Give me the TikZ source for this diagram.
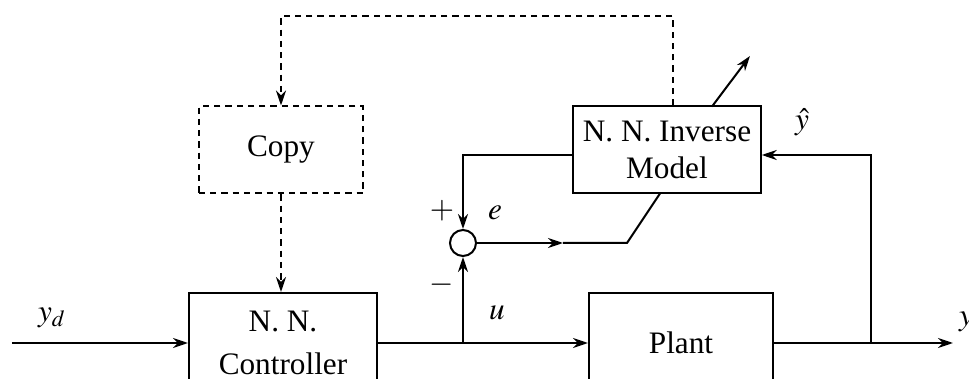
\documentclass[tikz,border=0pt]{standalone}
\usepackage{mathptmx}
\usepackage{fontspec}
\setmainfont{Liberation Serif}
\usetikzlibrary{positioning,arrows.meta,calc}

\begin{document}
\begin{tikzpicture}[
    x=0.4pt, y=-0.4pt,
    font=\fontsize{12.5}{15}\selectfont,
    line width=0.8pt,
    block/.style={rectangle, draw, align=center, inner sep=2pt},
    dashblock/.style={block, dash pattern=on 2.5pt off 2pt},
    dashline/.style={dash pattern=on 2.5pt off 2pt},
    sumnode/.style={circle, draw, minimum size=10.4pt, inner sep=0pt},
    >={Stealth[length=6pt,width=4pt]}
  ]
    \useasboundingbox (0,0) rectangle (969,379);
    \clip (0,0) rectangle (969,379);

    \node[dashblock, minimum width=65.6pt, minimum height=34.8pt] (copy) at (281,150) {Copy};
    \node[block, minimum width=75pt, minimum height=34.8pt] (inverse) at (667,150) {N. N. Inverse\\Model};
    \node[block, minimum width=75.2pt, minimum height=40pt] (ctrl) at (283,343) {N. N.\\[2pt]Controller};
    \node[block, minimum width=73.6pt, minimum height=40pt] (plant) at (681,343) {Plant};
    \node[sumnode] (sum) at (463,243) {};

    \coordinate (input) at (12,343);
    \coordinate (ubranch) at (463,343);
    \coordinate (ybranch) at (871,343);
    \coordinate (output) at (953,343);
    \coordinate (fbleft) at (463,155);
    \coordinate (emid) at (563,243);
    \coordinate (ebend) at (627,243);
    \coordinate (ein) at (660,193.5);
    \coordinate (adapttail) at (712,106.5);
    \coordinate (adapthead) at (750,56);
    \coordinate (dtop) at (673,16);
    \coordinate (dleft) at (281,16);

    % forward path
    \draw[->] (input) -- (ctrl);
    \draw[->] (ctrl.east |- ubranch) -- (plant.west |- ubranch);
    \draw[->] (plant.east |- ybranch) -- (output);
    \draw[->] (ubranch) -- (sum.south);

    % error and learning
    \draw[->] (inverse.west |- fbleft) -- (fbleft) -- (sum.north);
    \draw[->] (ybranch) |- (inverse.east |- fbleft);
    \draw[->] (sum.east) -- (emid);
    \draw (emid) -- (ebend) -- (ein);
    \draw[->] (adapttail) -- (adapthead);

    % weight copy
    \draw[dashline, ->] (inverse.north -| dtop) -- (dtop) -- (dleft) -- (copy.north);
    \draw[dashline, ->] (copy.south) -- (copy.south |- ctrl.north);

    % labels
    \node (lyd) at (52,318) {$y_d$};
    \node (lu) at (497,313) {$u$};
    \node (le) at (495,213) {$e$};
    \node (lplus) at (442,211) {$+$};
    \node (lminus) at (442,285) {$-$};
    \node (lyhat) at (802,122) {$\hat{y}$};
    \node (ly) at (966,322) {$y$};
\end{tikzpicture}
\end{document}
